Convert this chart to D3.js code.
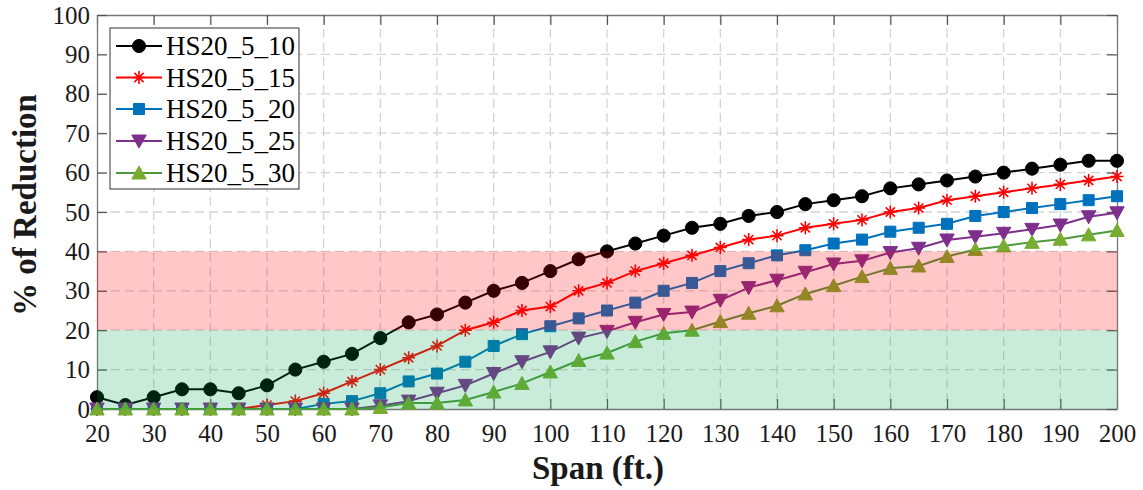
<!DOCTYPE html>
<html>
<head>
<meta charset="utf-8">
<script src="https://cdn.jsdelivr.net/npm/d3@7"></script>
<style>
  html, body { margin: 0; padding: 0; background: #fff; }
  svg { display: block; }
  text { font-family: "Liberation Serif", "Times New Roman", serif; }
</style>
</head>
<body>
<svg id="chart" width="1143" height="490"></svg>
<script>
// ---------------- DATA ----------------
const spans = [20,25,30,35,40,45,50,55,60,65,70,75,80,85,90,95,100,105,110,115,120,125,130,135,140,145,150,155,160,165,170,175,180,185,190,195,200];
const hs20_5_10 = [3,1,3,5,5,4,6,10,12,14,18,22,24,27,30,32,35,38,40,42,44,46,47,49,50,52,53,54,56,57,58,59,60,61,62,63,63];
const hs20_5_15 = [0,0,0,0,0,0,1,2,4,7,10,13,16,20,22,25,26,30,32,35,37,39,41,43,44,46,47,48,50,51,53,54,55,56,57,58,59];
const hs20_5_20 = [0,0,0,0,0,0,0,0,1.3,2,4,7,9,12,16,19,21,23,25,27,30,32,35,37,39,40.3,42,43,45,46,47,49,50,51,52,53,54];
const hs20_5_25 = [0,0,0,0,0,0,0,0,0,0,0.8,2,4,6,9,12,14.5,18,19.7,22,24,24.6,27.6,30.8,32.7,34.7,36.8,37.6,39.7,40.8,42.9,43.7,44.6,45.6,46.7,48.8,49.8];
const hs20_5_30 = [0,0,0,0,0,0,0,0,0,0,0.4,1.5,1.5,2.3,4.3,6.5,9.4,12.3,14.2,17.1,19.2,20,22.2,24.3,26.2,29.2,31.3,33.6,35.7,36.3,38.7,40.5,41.4,42.3,43.1,44.2,45.3];
const seriesNames = ["HS20_5_10","HS20_5_15","HS20_5_20","HS20_5_25","HS20_5_30"];
const xTicks = [20,30,40,50,60,70,80,90,100,110,120,130,140,150,160,170,180,190,200];
const yTicks = [0,10,20,30,40,50,60,70,80,90,100];
const bandRed = [20, 40];
const bandGreen = [0, 20];
const xLabel = "Span (ft.)";
const yLabel = "% of Reduction";

// ---------------- STYLE ----------------
const styles = [
  {line:"#000000", fill:"#000000", marker:"circle"},
  {line:"#FF0000", fill:"#FF0000", marker:"asterisk"},
  {line:"#0072BD", fill:"#0072BD", marker:"square"},
  {line:"#7E2F8E", fill:"#7E2F8E", marker:"down"},
  {line:"#4E9A3A", fill:"#77AC30", marker:"up"}
];
const allSeries = [hs20_5_10, hs20_5_15, hs20_5_20, hs20_5_25, hs20_5_30];

const svg = d3.select("#chart");
const M = {left: 97, right: 1117, top: 15, bottom: 409};
const x = d3.scaleLinear().domain([20, 200]).range([M.left, M.right]);
const y = d3.scaleLinear().domain([0, 100]).range([M.bottom, M.top]);

svg.append("rect").attr("width", 1143).attr("height", 490).attr("fill", "#fff");

// grid
const grid = svg.append("g");
grid.selectAll("line.vx").data(xTicks.slice(1, -1)).join("line")
  .attr("x1", d => x(d)).attr("x2", d => x(d))
  .attr("y1", M.top).attr("y2", M.bottom)
  .attr("stroke", "#d4d4d4").attr("stroke-width", 1.3).attr("stroke-dasharray", "9,5");
grid.selectAll("line.hy").data(yTicks.slice(1, -1)).join("line")
  .attr("y1", d => y(d)).attr("y2", d => y(d))
  .attr("x1", M.left).attr("x2", M.right)
  .attr("stroke", "#d4d4d4").attr("stroke-width", 1.3).attr("stroke-dasharray", "9,5");

// axes
const axisColor = "#777";
const labelColor = "#1a1a1a";
function styleAxis(g, showLabels) {
  g.select(".domain").attr("stroke", axisColor).attr("stroke-width", 1.3);
  g.selectAll(".tick line").attr("stroke", "#555").attr("stroke-width", 1.2);
  g.selectAll(".tick text").attr("font-size", 25).attr("fill", labelColor)
    .attr("font-family", "Liberation Serif, Times New Roman, serif");
  if (!showLabels) g.selectAll(".tick text").remove();
}
svg.append("g").attr("transform", `translate(0,${M.bottom})`)
  .call(d3.axisBottom(x).tickValues(xTicks).tickSizeInner(-10).tickSizeOuter(0).tickPadding(15))
  .call(g => styleAxis(g, true));
svg.append("g").attr("transform", `translate(0,${M.top})`)
  .call(d3.axisTop(x).tickValues(xTicks).tickSizeInner(-10).tickSizeOuter(0))
  .call(g => styleAxis(g, false));
svg.append("g").attr("transform", `translate(${M.left},0)`)
  .call(d3.axisLeft(y).tickValues(yTicks).tickSizeInner(-10).tickSizeOuter(0).tickPadding(7))
  .call(g => styleAxis(g, true));
svg.append("g").attr("transform", `translate(${M.right},0)`)
  .call(d3.axisRight(y).tickValues(yTicks).tickSizeInner(-10).tickSizeOuter(0))
  .call(g => styleAxis(g, false));

// markers
function markerPath(type) {
  switch (type) {
    case "circle": return d3.symbol(d3.symbolCircle, 135)();
    case "square": return "M-5.5,-5.5H5.5V5.5H-5.5Z";
    case "up": return "M0,-7L7.2,6L-7.2,6Z";
    case "down": return "M0,7L7.2,-6L-7.2,-6Z";
    case "asterisk": {
      const r = 6.5, d = r * Math.SQRT1_2;
      return `M0,${-r}V${r}M${-r},0H${r}M${-d},${-d}L${d},${d}M${-d},${d}L${d},${-d}`;
    }
  }
}
function drawMarker(sel, st) {
  sel.append("path").attr("d", markerPath(st.marker))
    .attr("fill", st.marker === "asterisk" ? "none" : st.fill)
    .attr("stroke", st.fill)
    .attr("stroke-width", st.marker === "asterisk" ? 1.6 : 1);
}

const line = d3.line().x(d => x(d[0])).y(d => y(d[1]));
allSeries.forEach((vals, i) => {
  const st = styles[i];
  const pts = spans.map((s, k) => [s, vals[k]]);
  const g = svg.append("g");
  g.append("path").attr("d", line(pts)).attr("fill", "none")
    .attr("stroke", st.line).attr("stroke-width", 2);
  g.selectAll("g.m").data(pts).join("g")
    .attr("transform", d => `translate(${x(d[0])},${y(d[1])})`)
    .each(function() { drawMarker(d3.select(this), st); });
});

// translucent bands drawn on top
svg.append("rect").attr("x", M.left).attr("width", M.right - M.left)
  .attr("y", y(bandRed[1])).attr("height", y(bandRed[0]) - y(bandRed[1]))
  .attr("fill", "#FF0000").attr("fill-opacity", 0.22);
svg.append("rect").attr("x", M.left).attr("width", M.right - M.left)
  .attr("y", y(bandGreen[1])).attr("height", y(bandGreen[0]) - y(bandGreen[1]))
  .attr("fill", "#00A550").attr("fill-opacity", 0.21);

// axis titles
svg.append("text").attr("x", 598).attr("y", 479)
  .attr("text-anchor", "middle").attr("font-size", 33).attr("font-weight", "bold")
  .attr("fill", labelColor).text(xLabel);
svg.append("text").attr("transform", `translate(36,205) rotate(-90)`)
  .attr("text-anchor", "middle").attr("font-size", 33).attr("font-weight", "bold")
  .attr("fill", labelColor).text(yLabel);

// legend
const lg = svg.append("g");
lg.append("rect").attr("x", 110).attr("y", 28).attr("width", 189).attr("height", 161)
  .attr("fill", "#fff").attr("stroke", "#333").attr("stroke-width", 1);
const rowY = [46, 77.5, 109, 141, 173];
seriesNames.forEach((name, i) => {
  const st = styles[i];
  const row = lg.append("g").attr("transform", `translate(0,${rowY[i]})`);
  row.append("line").attr("x1", 116).attr("x2", 162).attr("y1", 0).attr("y2", 0)
    .attr("stroke", st.line).attr("stroke-width", 2);
  const mg = row.append("g").attr("transform", "translate(139,0)");
  drawMarker(mg, st);
  row.append("text").attr("x", 166).attr("y", 9).attr("font-size", 27)
    .attr("fill", "#000").text(name);
});
</script>
</body>
</html>
